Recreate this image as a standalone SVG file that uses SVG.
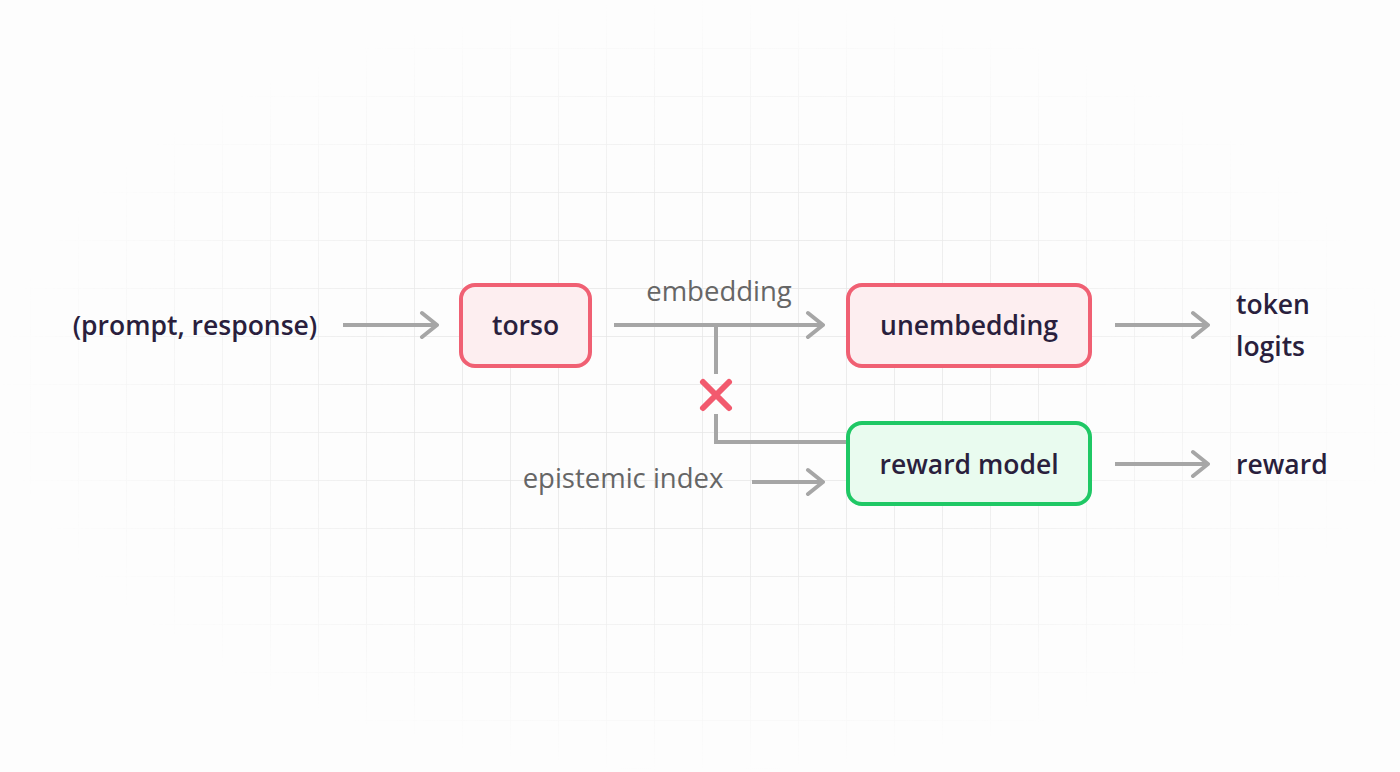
<svg xmlns="http://www.w3.org/2000/svg" width="1400" height="772" viewBox="0 0 1400 772">
<defs>
<pattern id="grid" x="31" y="1" width="48" height="48" patternUnits="userSpaceOnUse"><path d="M48 0V48M0 48H48" fill="none" stroke="#e6e6e6" stroke-width="1.5"/></pattern>
<radialGradient id="fade" cx="0.5" cy="0.5" r="0.5"><stop offset="0.4" stop-color="#fff"/><stop offset="1" stop-color="#000"/></radialGradient>
<mask id="m"><rect width="1400" height="772" fill="url(#fade)"/></mask>
<marker id="ah" viewBox="0 0 20 30" refX="18" refY="15" markerWidth="20" markerHeight="30" markerUnits="userSpaceOnUse" orient="auto"><path d="M3 3L18 15L3 27" fill="none" stroke="#a6a6a6" stroke-width="4" stroke-linecap="round" stroke-linejoin="round"/></marker>
<style>
.t{font-family:"Open Sans","Liberation Sans",sans-serif;font-size:26.5px;font-weight:600;fill:#2a1f3d}
.l{font-family:"Open Sans","Liberation Sans",sans-serif;font-size:27.5px;fill:#666}
.c{fill:none;stroke:#a6a6a6;stroke-width:4}
.a{marker-end:url(#ah)}
</style>
</defs>
<rect width="1400" height="772" fill="#fdfdfd"/>
<rect width="1400" height="772" fill="url(#grid)" mask="url(#m)"/>
<g id="connectors">
<path class="c a" d="M343 325H437"/>
<path class="c a" d="M614 325H823"/>
<path class="c a" d="M1115 325H1208"/>
<path class="c a" d="M752 482H823"/>
<path class="c a" d="M1115 464H1208"/>
<path class="c" d="M716 325V374"/>
<path class="c" d="M716 414V442H848"/>
<path d="M703 382L729 408M729 382L703 408" stroke="#f25a6e" stroke-width="6" stroke-linecap="round"/>
<text class="l" x="719" y="301" text-anchor="middle">embedding</text>
<text class="l" x="623" y="488" text-anchor="middle">epistemic index</text>
</g>
<g id="input"><text class="t" x="195" y="335" text-anchor="middle">(prompt, response)</text></g>
<g id="torso"><rect x="461" y="285" width="129" height="81" rx="14" fill="#fdeef0" stroke="#f06073" stroke-width="4"/><text class="t" x="525.5" y="335" text-anchor="middle">torso</text></g>
<g id="unembedding"><rect x="848" y="285" width="242" height="81" rx="14" fill="#fdeef0" stroke="#f06073" stroke-width="4"/><text class="t" x="969" y="335" text-anchor="middle">unembedding</text></g>
<g id="reward-model"><rect x="848" y="423" width="242" height="81" rx="14" fill="#e9fbef" stroke="#1fc865" stroke-width="4"/><text class="t" x="969" y="474" text-anchor="middle">reward model</text></g>
<g id="token-logits"><text class="t" x="1236" y="314">token</text><text class="t" x="1236" y="356">logits</text></g>
<g id="reward"><text class="t" x="1236" y="474">reward</text></g>
</svg>
